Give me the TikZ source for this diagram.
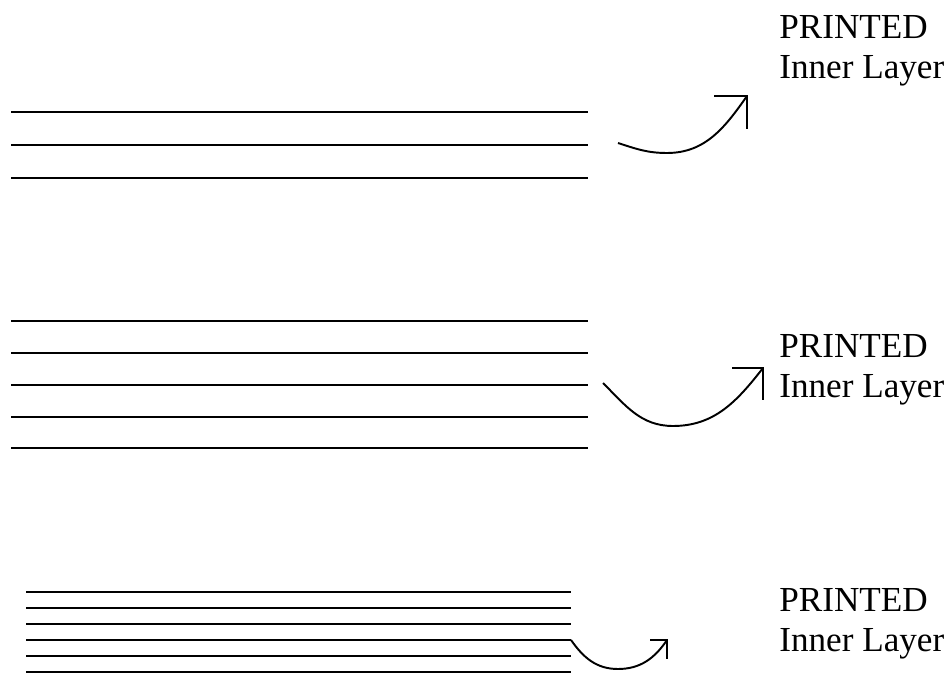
\documentclass[tikz,border=0pt]{standalone}
\usepackage{fontspec}
\setmainfont{Liberation Serif}

\begin{document}
\begin{tikzpicture}[
  sheet/.style={line width=1.1pt},
  turn/.style={line width=1.1pt},
  printlbl/.style={align=left, anchor=west, inner sep=0pt,
    font=\fontsize{20}{22.8}\selectfont}
]
\useasboundingbox (0,0) rectangle (18.94,13.74);

%top stack
\foreach \y in {11.5,10.84,10.18}
  \draw[sheet] (0.22,\y) -- (11.76,\y);
\coordinate (sA) at (12.36,10.88);
\coordinate (bA) at (13.34,10.68);
\coordinate (tA) at (14.94,11.82);
\draw[turn] (sA) to[out=-18, in=180] (bA) to[out=0, in=235] (tA);
\draw[turn] (tA) +(-0.66,0) -- (tA) -- +(0,-0.66);
\node[printlbl] (txtA) at (15.58,12.72) {PRINTED\\Inner Layer};

%middle stack
\foreach \y in {7.32,6.68,6.04,5.4,4.78}
  \draw[sheet] (0.22,\y) -- (11.76,\y);
\coordinate (sB) at (12.06,6.08);
\coordinate (bB) at (13.46,5.22);
\coordinate (tB) at (15.26,6.38);
\draw[turn] (sB) to[out=-45, in=180] (bB) to[out=0, in=232] (tB);
\draw[turn] (tB) +(-0.62,0) -- (tB) -- +(0,-0.64);
\node[printlbl] (txtB) at (15.58,6.34) {PRINTED\\Inner Layer};

%bottom stack
\foreach \y in {1.9,1.58,1.26,0.94,0.62,0.3}
  \draw[sheet] (0.52,\y) -- (11.42,\y);
\coordinate (sC) at (11.42,0.94);
\coordinate (bC) at (12.36,0.36);
\coordinate (tC) at (13.34,0.94);
\draw[turn] (sC) to[out=-55, in=180] (bC) to[out=0, in=236] (tC);
\draw[turn] (tC) +(-0.34,0) -- (tC) -- +(0,-0.38);
\node[printlbl] (txtC) at (15.58,1.26) {PRINTED\\Inner Layer};

\end{tikzpicture}
\end{document}
